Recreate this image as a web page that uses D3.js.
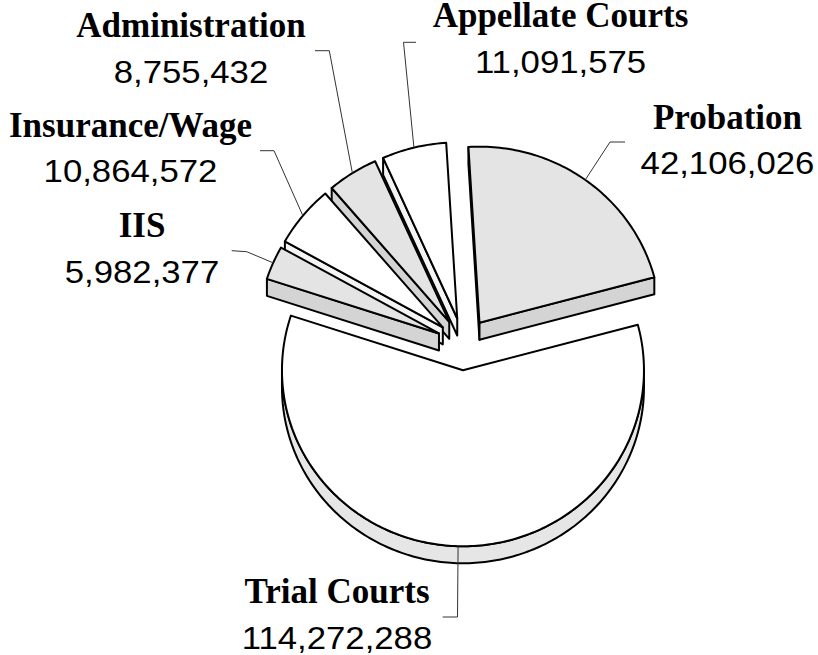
<!DOCTYPE html>
<html>
<head>
<meta charset="utf-8">
<script src="https://cdn.jsdelivr.net/npm/d3@7"></script>
<style>
  html, body { margin: 0; padding: 0; background: #fff; }
  svg { display: block; }
</style>
</head>
<body>
<script>
// ---- data ----
const categories = ["Probation", "Trial Courts", "IIS", "Insurance/Wage", "Administration", "Appellate Courts"];
const values = [42106026, 114272288, 5982377, 10864572, 8755432, 11091575];
const valueLabels = ["42,106,026", "114,272,288", "5,982,377", "10,864,572", "8,755,432", "11,091,575"];

// ---- styles ----
const topFill = ["#e4e4e4", "#ffffff", "#e4e4e4", "#ffffff", "#e4e4e4", "#ffffff"];
const outerSideFill = ["#d4d4d4", "#e6e6e6", "#d4d4d4", "#e6e6e6", "#d4d4d4", "#e6e6e6"];
const cutSideFill = ["#d4d4d4", "#f2f2f2", "#d4d4d4", "#f4f4f4", "#d4d4d4", "#f4f4f4"];

// ---- layout (label anchors and leader elbows) ----
const labelCenter = [[727.5, 128.5], [337, 603.3], [142, 237.3], [130.5, 136.7], [191, 37.3], [560.5, 27.3]];
const leaderElbow = [[610, 142], [457.5, 617], [246.7, 251.7], [274, 150.7], [329.3, 50.7], [403.5, 42.3]];
const leaderEnd   = [[625, 142], [442.7, 617], [231.7, 250.7], [260, 150.7], [315, 50.7], [416, 42.3]];

const W = 818, H = 655;
const cx = 463.7, cy = 344, rx = 181, ry = 176, depth = 17, explode = 27;
const ky = ry / rx;
const deg = Math.PI / 180;
const startA = -3.5 * deg;

const svg = d3.select("body").append("svg").attr("width", W).attr("height", H);

const pie = d3.pie().sort(null).startAngle(startA).endAngle(startA + 2 * Math.PI);
const arcs = pie(values);

function pt(o, a, f, h) {
  return [cx + o[0] + rx * f * Math.sin(a), cy + o[1] - ry * f * Math.cos(a) + h];
}

const slices = arcs.map((d, i) => {
  const m = (d.startAngle + d.endAngle) / 2;
  const o = [explode * Math.sin(m), -explode * ky * Math.cos(m)];
  return { i, d, m, o };
});

const order = slices.slice().sort((a, b) => a.o[1] - b.o[1]);

function arcPoints(o, a0, a1, h) {
  const n = Math.max(2, Math.ceil(Math.abs(a1 - a0) / deg));
  const pts = [];
  for (let k = 0; k <= n; k++) {
    const a = a0 + (a1 - a0) * k / n;
    pts.push(pt(o, a, 1, h));
  }
  return pts;
}
const line = d3.line();

const g = svg.append("g");

order.forEach(s => {
  const { d, o, i } = s;
  const a0 = d.startAngle, a1 = d.endAngle;
  const apex = pt(o, 0, 0, 0), apexB = pt(o, 0, 0, depth);
  // cut face at start (visible when sin<0)
  if (Math.sin(a0) < -0.001) {
    g.append("path")
      .attr("d", line([apex, pt(o, a0, 1, 0), pt(o, a0, 1, depth), apexB]) + "Z")
      .attr("fill", cutSideFill[i]).attr("stroke", "#000").attr("stroke-width", 2).attr("stroke-linejoin", "round");
  }
  // cut face at end
  if (Math.sin(a1) > 0.001) {
    g.append("path")
      .attr("d", line([apex, pt(o, a1, 1, 0), pt(o, a1, 1, depth), apexB]) + "Z")
      .attr("fill", cutSideFill[i]).attr("stroke", "#000").attr("stroke-width", 2).attr("stroke-linejoin", "round");
  }
  // outer curved side
  const s0 = Math.max(a0, 90 * deg), s1 = Math.min(a1, 270 * deg);
  if (s1 > s0) {
    const top = arcPoints(o, s0, s1, 0);
    const bot = arcPoints(o, s1, s0, depth);
    g.append("path")
      .attr("d", line(top.concat(bot)) + "Z")
      .attr("fill", outerSideFill[i]).attr("stroke", "#000").attr("stroke-width", 2).attr("stroke-linejoin", "round");
  }
  // top face
  const topPts = [apex].concat(arcPoints(o, a0, a1, 0));
  g.append("path")
    .attr("d", line(topPts) + "Z")
    .attr("fill", topFill[i]).attr("stroke", "#000").attr("stroke-width", 2).attr("stroke-linejoin", "round");
});

// leader lines
const lg = svg.append("g");
slices.forEach(s => {
  const p0 = pt(s.o, s.m, 1, 0);
  lg.append("path")
    .attr("d", line([p0, leaderElbow[s.i], leaderEnd[s.i]]))
    .attr("fill", "none").attr("stroke", "#333").attr("stroke-width", 1);
});

// labels
const tg = svg.append("g");
categories.forEach((c, i) => {
  const [x, y] = labelCenter[i];
  tg.append("text")
    .attr("x", x).attr("y", y)
    .attr("text-anchor", "middle")
    .attr("font-family", "'Liberation Serif', 'Times New Roman', serif")
    .attr("font-weight", "bold")
    .attr("font-size", 35)
    .attr("fill", "#000")
    .text(c);
  const v = tg.append("text")
    .attr("x", x).attr("y", y + 45.5)
    .attr("text-anchor", "middle")
    .attr("font-family", "'Liberation Sans', Arial, sans-serif")
    .attr("font-size", 31)
    .attr("fill", "#000")
    .text(valueLabels[i]);
  const len = v.node().getComputedTextLength();
  v.attr("textLength", len * 1.12).attr("lengthAdjust", "spacingAndGlyphs");
});
</script>
</body>
</html>
